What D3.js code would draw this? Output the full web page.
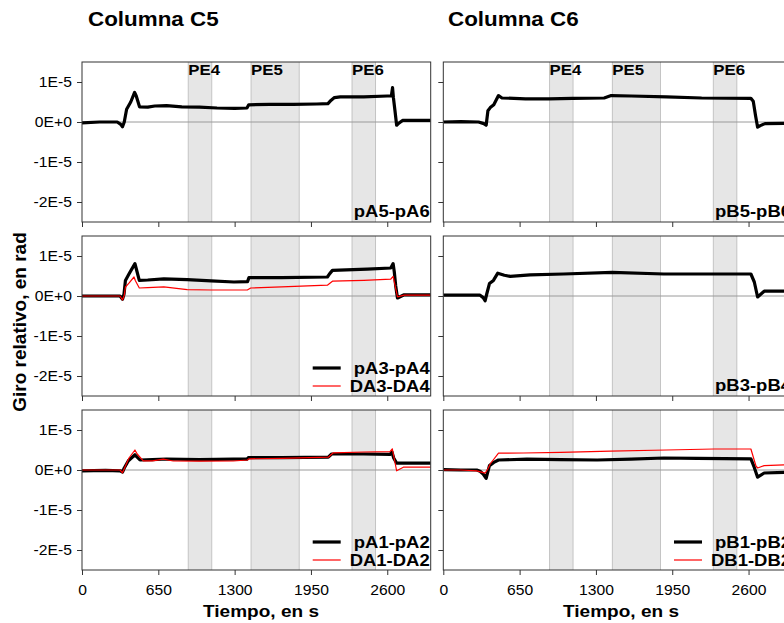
<!DOCTYPE html>
<html>
<head>
<meta charset="utf-8">
<script src="https://cdn.jsdelivr.net/npm/d3@7"></script>
<style>
  body { margin: 0; background: #fff; }
  text { font-family: "Liberation Sans", Arial, sans-serif; fill: #000; }
</style>
</head>
<body>
<svg id="chart" width="784" height="623"></svg>
<script>
// time in s, rotation in units of 1E-6 rad
var xTicks = [0, 650, 1300, 1950, 2600];
var yTicks = [10, 0, -10, -20];
var yTickLabels = ["1E-5", "0E+0", "-1E-5", "-2E-5"];
var bands = [[905, 1105], [1440, 1850], [2300, 2500]];
var bandLabels = ["PE4", "PE5", "PE6"];
var columnTitles = ["Columna C5", "Columna C6"];

// column C5
var pA5_pA6 = [[0,-0.2],[150,0],[300,0],[330,-0.6],[345,-1.2],[360,0],[380,3.2],[415,5.0],[448,7.4],[462,6.5],[490,3.8],[560,3.7],[620,4.0],[720,4.1],[850,3.8],[1000,3.7],[1150,3.5],[1300,3.4],[1405,3.5],[1420,4.3],[1600,4.4],[1800,4.4],[2000,4.5],[2095,4.6],[2120,5.4],[2150,6.1],[2200,6.3],[2400,6.3],[2600,6.5],[2635,6.5],[2645,8.6],[2652,6.2],[2665,3.0],[2680,-0.8],[2695,-0.4],[2730,0.4],[2970,0.4]];
var pA3_pA4 = [[0,0],[200,0],[324,0],[345,-0.8],[358,0.5],[370,3.9],[400,5.5],[451,8.1],[465,6.5],[488,3.9],[560,4.0],[697,4.3],[896,4.1],[1100,3.8],[1294,3.5],[1410,3.6],[1422,4.6],[1700,4.6],[2090,4.75],[2110,5.6],[2133,6.4],[2430,6.7],[2630,7.0],[2650,8.1],[2660,6.0],[2672,2.5],[2687,-0.5],[2744,0.3],[2970,0.3]];
var DA3_DA4 = [[0,0],[200,0],[324,0],[345,-1.0],[360,0.2],[370,2.25],[400,3.2],[443,4.75],[455,3.8],[488,2.0],[560,2.1],[697,2.3],[896,1.6],[1100,1.5],[1408,1.5],[1437,2.0],[1700,2.3],[2090,2.7],[2133,3.7],[2400,3.9],[2630,4.2],[2650,4.9],[2660,3.5],[2687,-0.2],[2744,0.2],[2970,0.2]];
var pA1_pA2 = [[0,-0.2],[200,-0.1],[324,-0.2],[345,-0.5],[360,0.5],[395,2.3],[451,3.8],[494,2.5],[600,2.6],[721,2.75],[1000,2.6],[1289,2.7],[1405,2.7],[1417,3.1],[1700,3.1],[2098,3.2],[2126,4.0],[2400,4.0],[2623,3.9],[2640,4.5],[2655,3.0],[2680,1.7],[2970,1.7]];
var DA1_DA2 = [[0,0],[200,0],[324,0],[345,-0.7],[360,0.3],[400,3.0],[451,5.0],[470,4.0],[522,2.3],[600,2.3],[692,2.7],[777,2.25],[1000,2.2],[1289,2.25],[1410,2.5],[1420,2.8],[1700,2.9],[2098,3.2],[2140,4.3],[2400,4.5],[2623,4.6],[2643,5.3],[2655,3.5],[2680,-0.2],[2737,0.7],[2970,0.7]];

// column C6
var pB5_pB6 = [[0,0],[150,0.1],[300,0],[345,-0.4],[365,-0.8],[380,2.8],[400,3.6],[430,4.3],[470,6.6],[500,6.0],[700,5.8],[900,5.8],[1100,5.9],[1370,6.0],[1430,6.6],[1600,6.5],[1900,6.3],[2200,6.0],[2620,5.9],[2640,5.2],[2660,1.5],[2677,-1.3],[2700,-0.9],[2740,-0.4],[2970,-0.3]];
var pB3_pB4 = [[0,0.2],[150,0.2],[313,0.2],[340,-0.4],[356,-1.2],[370,0.5],[393,3.1],[427,3.9],[464,5.7],[520,5.2],[570,4.9],[740,5.3],[1025,5.5],[1438,5.9],[1879,5.5],[2300,5.5],[2620,5.5],[2649,3.5],[2677,-0.25],[2733,1.2],[2970,1.2]];
var pB1_pB2 = [[0,0.1],[150,0],[285,0],[313,-0.3],[340,-1.0],[365,-2.1],[393,1.1],[430,1.9],[470,2.5],[712,2.7],[1000,2.6],[1310,2.5],[1600,2.7],[1879,3.0],[2164,2.9],[2620,2.8],[2648,0.7],[2677,-1.8],[2733,-0.75],[2970,-0.5]];
var DB1_DB2 = [[0,0],[150,0],[285,-0.2],[356,-0.8],[380,0.3],[399,1.5],[470,4.2],[683,4.25],[1000,4.4],[1424,4.7],[1900,5.0],[2306,5.25],[2620,5.25],[2663,1.0],[2677,0.5],[2733,1.1],[2910,1.3],[2970,1.3]];

var panels = [
  { col: 0, row: 0, series: [{ name: "pA5-pA6", data: pA5_pA6, color: "#000", width: 3.2 }], legend: false },
  { col: 0, row: 1, series: [{ name: "pA3-pA4", data: pA3_pA4, color: "#000", width: 3.2 }, { name: "DA3-DA4", data: DA3_DA4, color: "#ff0000", width: 1.2 }], legend: true },
  { col: 0, row: 2, series: [{ name: "pA1-pA2", data: pA1_pA2, color: "#000", width: 3.2 }, { name: "DA1-DA2", data: DA1_DA2, color: "#ff0000", width: 1.2 }], legend: true },
  { col: 1, row: 0, series: [{ name: "pB5-pB6", data: pB5_pB6, color: "#000", width: 3.2 }], legend: false },
  { col: 1, row: 1, series: [{ name: "pB3-pB4", data: pB3_pB4, color: "#000", width: 3.2 }], legend: false },
  { col: 1, row: 2, series: [{ name: "pB1-pB2", data: pB1_pB2, color: "#000", width: 3.2 }, { name: "DB1-DB2", data: DB1_DB2, color: "#ff0000", width: 1.2 }], legend: true }
];

var svg = d3.select("#chart"),
    colLeft = [82, 443.3],
    rowTop = [62, 236, 410],
    pw = 348.7,
    ph = 160,
    sx = 1.12; // the original figure is slightly stretched horizontally

var x = d3.scaleLinear().domain([0, 2970]).range([0, pw]);
var y = d3.scaleLinear().domain([-25, 15]).range([ph, 0]);

var line = d3.line()
    .x(function (d) { return x(d[0]); })
    .y(function (d) { return y(d[1]); });

function stretchText(sel, tx, ty) {
  sel.attr("transform", "translate(" + tx + "," + ty + ") scale(" + sx + ",1)");
  return sel;
}

panels.forEach(function (p, i) {
  var g = svg.append("g")
      .attr("transform", "translate(" + colLeft[p.col] + "," + rowTop[p.row] + ")");

  svg.append("clipPath").attr("id", "clip" + i)
    .append("rect").attr("width", pw).attr("height", ph);

  var inner = g.append("g").attr("clip-path", "url(#clip" + i + ")");

  inner.selectAll("rect.band")
      .data(bands)
      .enter()
      .append("rect")
      .attr("class", "band")
      .attr("x", function (d) { return x(d[0]); })
      .attr("y", -1)
      .attr("width", function (d) { return x(d[1]) - x(d[0]); })
      .attr("height", ph + 2)
      .attr("fill", "#e6e6e6")
      .attr("stroke", "#c4c4c4")
      .attr("stroke-width", 1);

  inner.append("line")
      .attr("x1", 0).attr("x2", pw)
      .attr("y1", y(0)).attr("y2", y(0))
      .attr("stroke", "#9a9a9a")
      .attr("stroke-width", 1);

  // black first, red on top
  p.series.forEach(function (s) {
    inner.append("path")
        .datum(s.data)
        .attr("fill", "none")
        .attr("stroke", s.color)
        .attr("stroke-width", s.width)
        .attr("stroke-linejoin", "round")
        .attr("d", line);
  });

  if (p.row === 0) {
    bands.forEach(function (b, j) {
      stretchText(g.append("text"), x(b[0]), 13)
          .attr("font-size", "15px")
          .attr("font-weight", "bold")
          .text(bandLabels[j]);
    });
  }

  if (p.legend) {
    p.series.forEach(function (s, j) {
      var ly = ph - 28 + j * 18;
      g.append("line")
          .attr("x1", pw - 118).attr("x2", pw - 90)
          .attr("y1", ly).attr("y2", ly)
          .attr("stroke", s.color)
          .attr("stroke-width", s.width);
      stretchText(g.append("text"), pw - 1, ly + 6)
          .attr("text-anchor", "end")
          .attr("font-size", "16.5px")
          .attr("font-weight", "bold")
          .text(s.name);
    });
  } else {
    stretchText(g.append("text"), pw - 1, ph - 5)
        .attr("text-anchor", "end")
        .attr("font-size", "16.5px")
        .attr("font-weight", "bold")
        .text(p.series[0].name);
  }

  g.append("rect")
      .attr("width", pw)
      .attr("height", ph)
      .attr("fill", "none")
      .attr("stroke", "#333")
      .attr("stroke-width", 1);

  var yAxis = g.append("g")
      .call(d3.axisLeft(y)
          .tickValues(yTicks)
          .tickSize(5)
          .tickSizeOuter(0)
          .tickPadding(4)
          .tickFormat(function (d, k) { return p.col === 0 ? yTickLabels[k] : ""; }));

  var xAxis = g.append("g")
      .attr("transform", "translate(0," + ph + ")")
      .call(d3.axisBottom(x)
          .tickValues(xTicks)
          .tickSize(5)
          .tickSizeOuter(0)
          .tickPadding(10)
          .tickFormat(function (d) { return p.row === 2 ? d : ""; }));

  [yAxis, xAxis].forEach(function (a) {
    a.select(".domain").remove();
    a.selectAll(".tick line").attr("stroke", "#333");
    a.selectAll(".tick text")
        .attr("font-size", "14px")
        .attr("font-family", "Liberation Sans, Arial, sans-serif")
        .attr("fill", "#000")
        .attr("transform", "scale(" + sx + ",1)");
  });
});

// column titles
columnTitles.forEach(function (t, i) {
  stretchText(svg.append("text"), [88, 448][i], 26)
      .attr("font-size", "20px")
      .attr("font-weight", "bold")
      .text(t);
});

// axis titles
[261, 621].forEach(function (cx) {
  stretchText(svg.append("text"), cx, 617)
      .attr("text-anchor", "middle")
      .attr("font-size", "17px")
      .attr("font-weight", "bold")
      .text("Tiempo, en s");
});

svg.append("text")
    .attr("transform", "translate(26,322) rotate(-90)")
    .attr("text-anchor", "middle")
    .attr("font-size", "19px")
    .attr("font-weight", "bold")
    .text("Giro relativo, en rad");
</script>
</body>
</html>
